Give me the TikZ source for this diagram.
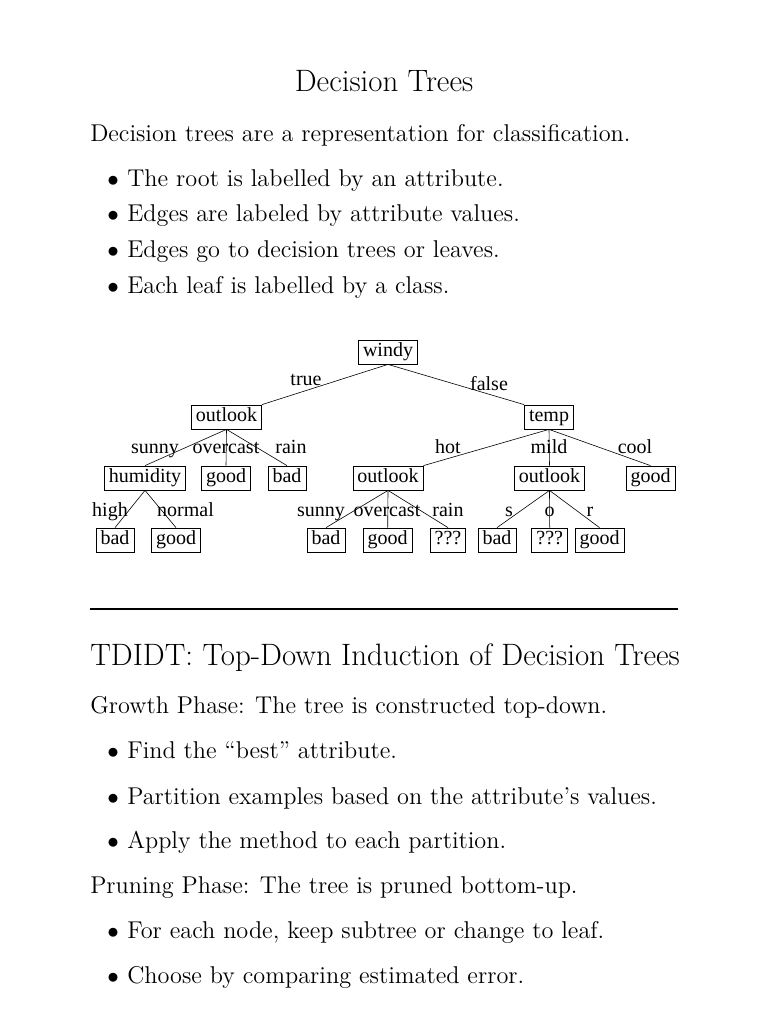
\documentclass[tikz,border=0pt]{standalone}
\usepackage{fontspec}
\setmainfont{lmroman12-regular.otf}
\newfontfamily\titlefont{lmroman17-regular.otf}
\newfontfamily\treefont{Liberation Serif}
\newcommand{\bodysize}{\fontsize{18.2pt}{22pt}\selectfont}
\newcommand{\titlesize}{\fontsize{23.2pt}{28pt}\titlefont}
\begin{document}
\begin{tikzpicture}[x=0.75pt,y=-0.75pt,
  txt/.style={anchor=base west,inner sep=0pt,font=\bodysize},
  ttl/.style={anchor=base west,inner sep=0pt,font=\titlesize},
  bul/.style={anchor=base west,inner sep=0pt,font=\bodysize},
  tbox/.style={draw,line width=0.6pt,font=\fontsize{15pt}{18pt}\treefont,inner xsep=3.4pt,inner ysep=2pt,text height=10.6pt,text depth=3.4pt},
  lab/.style={anchor=base,inner sep=0pt,font=\fontsize{15pt}{18pt}\treefont},
  edge/.style={line width=0.45pt}]
\useasboundingbox (0,0) rectangle (768,1024);

% --- upper text ---
\node[ttl,anchor=base] (t1) at (384,92) {Decision Trees};
\node[txt] (p1) at (90,141) {Decision trees are a representation for classification.};
\node[bul] (b1m) at (107,186) {$\bullet$};
\node[txt] (l1) at (127,186) {The root is labelled by an attribute.};
\node[bul] (b2m) at (107,221) {$\bullet$};
\node[txt] (l2) at (127,221) {Edges are labeled by attribute values.};
\node[bul] (b3m) at (107,257) {$\bullet$};
\node[txt] (l3) at (127,257) {Edges go to decision trees or leaves.};
\node[bul] (b4m) at (107,293) {$\bullet$};
\node[txt] (l4) at (127,293) {Each leaf is labelled by a class.};

% --- tree ---
\node[tbox] (windy) at (388,352) {windy};
\node[tbox] (o1) at (226.5,417) {outlook};
\node[tbox] (temp) at (549,417) {temp};
\node[tbox] (hum) at (145,478) {humidity};
\node[tbox] (g1) at (226,478) {good};
\node[tbox] (bd1) at (287,478) {bad};
\node[tbox] (o2) at (388,478) {outlook};
\node[tbox] (o3) at (549.5,478) {outlook};
\node[tbox] (g2) at (650.5,478) {good};
\node[tbox] (bd2) at (115,540) {bad};
\node[tbox] (g3) at (176,540) {good};
\node[tbox] (bd3) at (326,540) {bad};
\node[tbox] (g4) at (387.7,540) {good};
\node[tbox] (q1) at (448,540) {???};
\node[tbox] (bd4) at (497,540) {bad};
\node[tbox] (q2) at (549.7,540) {???};
\node[tbox] (g5) at (599.5,540) {good};

\draw[edge] (windy.south) -- (o1.north east);
\draw[edge] (windy.south) -- (temp.north west);
\draw[edge] (o1.south) -- (hum.north);
\draw[edge] (o1.south) -- (g1.north);
\draw[edge] (o1.south) -- (bd1.north);
\draw[edge] (temp.south) -- (o2.north east);
\draw[edge] (temp.south) -- (o3.north);
\draw[edge] (temp.south) -- (g2.north);
\draw[edge] (hum.south) -- (bd2.north);
\draw[edge] (hum.south) -- (g3.north);
\draw[edge] (o2.south) -- (bd3.north);
\draw[edge] (o2.south) -- (g4.north);
\draw[edge] (o2.south) -- (q1.north);
\draw[edge] (o3.south) -- (bd4.north);
\draw[edge] (o3.south) -- (q2.north);
\draw[edge] (o3.south) -- (g5.north);

\node[lab] (ltrue) at (306,385) {true};
\node[lab] (lfalse) at (489,390) {false};
\node[lab] (ls1) at (155,453) {sunny};
\node[lab] (lo1) at (226,453) {overcast};
\node[lab] (lr1) at (291,453) {rain};
\node[lab] (lhot) at (448,453) {hot};
\node[lab] (lmild) at (549,453) {mild};
\node[lab] (lcool) at (635,453) {cool};
\node[lab] (lhigh) at (110,516) {high};
\node[lab] (lnorm) at (185.5,516) {normal};
\node[lab] (ls2) at (321,516) {sunny};
\node[lab] (lo2) at (387,516) {overcast};
\node[lab] (lr2) at (448,516) {rain};
\node[lab] (ls3) at (509,516) {s};
\node[lab] (lo3) at (549.5,516) {o};
\node[lab] (lr3) at (590,516) {r};

% --- rule ---
\coordinate (ra) at (90,609);
\coordinate (rb) at (678,609);
\draw[line width=0.8pt] (ra) -- (rb);

% --- lower text ---
\node[ttl] (t2) at (90,665) {TDIDT: Top-Down Induction of Decision Trees};
\node[txt] (p2) at (90,713) {Growth Phase: The tree is constructed top-down.};
\node[bul] (b5m) at (107,758) {$\bullet$};
\node[txt] (l5) at (127,758) {Find the ``best'' attribute.};
\node[bul] (b6m) at (107,804) {$\bullet$};
\node[txt] (l6) at (127,804) {Partition examples based on the attribute's values.};
\node[bul] (b7m) at (107,848) {$\bullet$};
\node[txt] (l7) at (127,848) {Apply the method to each partition.};
\node[txt] (p3) at (90,893) {Pruning Phase: The tree is pruned bottom-up.};
\node[bul] (b8m) at (107,938) {$\bullet$};
\node[txt] (l8) at (127,938) {For each node, keep subtree or change to leaf.};
\node[bul] (b9m) at (107,983) {$\bullet$};
\node[txt] (l9) at (127,983) {Choose by comparing estimated error.};
\end{tikzpicture}
\end{document}
